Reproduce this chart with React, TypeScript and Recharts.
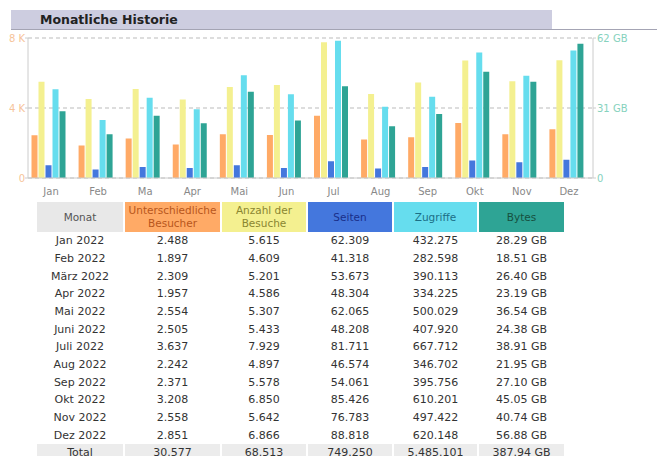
import React from 'react';
import { BarChart, Bar, XAxis, YAxis, CartesianGrid } from 'recharts';

// chart month labels
const months = ['Jan', 'Feb', 'Ma', 'Apr', 'Mai', 'Jun', 'Jul', 'Aug', 'Sep', 'Okt', 'Nov', 'Dez'];
// table month labels
const monthNames = ['Jan 2022', 'Feb 2022', 'März 2022', 'Apr 2022', 'Mai 2022', 'Juni 2022', 'Juli 2022', 'Aug 2022', 'Sep 2022', 'Okt 2022', 'Nov 2022', 'Dez 2022'];

const visitors = [2488, 1897, 2309, 1957, 2554, 2505, 3637, 2242, 2371, 3208, 2558, 2851];
const visits = [5615, 4609, 5201, 4586, 5307, 5433, 7929, 4897, 5578, 6850, 5642, 6866];
const pages = [62309, 41318, 53673, 48304, 62065, 48208, 81711, 46574, 54061, 85426, 76783, 88818];
const hits = [432275, 282598, 390113, 334225, 500029, 407920, 667712, 346702, 395756, 610201, 497422, 620148];
const bytesGB = [28.29, 18.51, 26.40, 23.19, 36.54, 24.38, 38.91, 21.95, 27.10, 45.05, 40.74, 56.88];

// axis scales
const visitsMax = 8170;
const hitsMax = 681000;
const bytesMax = 59.3;
const leftTicks = [0, visitsMax / 2, visitsMax];
const leftTickLabels = ['0', '4 K', '8 K'];
const rightTicks = [0, bytesMax / 2, bytesMax];
const rightTickLabels = ['0', '31 GB', '62 GB'];

const colors = {
  u: '#ffaa66',
  v: '#f4f090',
  p: '#4477dd',
  h: '#66ddee',
  k: '#2ea495',
};

const data = months.map((m, i) => ({
  month: m,
  visitors: visitors[i],
  visits: visits[i],
  pages: pages[i],
  hits: hits[i],
  bytes: bytesGB[i],
}));

const fmt = (n: number) => String(n).replace(/\B(?=(\d{3})+(?!\d))/g, '.');
const fmtGB = (n: number) => n.toFixed(2) + ' GB';
const sum = (arr: number[]) => arr.reduce((a, b) => a + b, 0);

const font = '"DejaVu Sans", Verdana, sans-serif';

const LeftTick = (props: any) => {
  const { x, y, index } = props;
  return (
    <text x={x} y={y} dy={3.5} textAnchor="end" fontSize={10} fontFamily={font} fill="#f6c49a">
      {leftTickLabels[index]}
    </text>
  );
};

const RightTick = (props: any) => {
  const { x, y, index } = props;
  return (
    <text x={x} y={y} dy={3.5} textAnchor="start" fontSize={10} fontFamily={font} fill="#86d2bd">
      {rightTickLabels[index]}
    </text>
  );
};

const MonthTick = (props: any) => {
  const { x, y, payload } = props;
  return (
    <text x={x + 3} y={y} dy={9} textAnchor="middle" fontSize={10} fontFamily={font} fill="#888">
      {payload.value}
    </text>
  );
};

const columns = [
  { title: ['Monat'], width: 86, bg: '#e8e8e8', color: '#555' },
  { title: ['Unterschiedliche', 'Besucher'], width: 95, bg: '#ffaa66', color: '#b8561c' },
  { title: ['Anzahl der', 'Besuche'], width: 84, bg: '#f4f090', color: '#8a8630' },
  { title: ['Seiten'], width: 84, bg: '#4477dd', color: '#1a2f8a' },
  { title: ['Zugriffe'], width: 83, bg: '#66ddee', color: '#1c6f86' },
  { title: ['Bytes'], width: 85, bg: '#2ea495', color: '#16503f' },
];

export default function App() {
  const rows = monthNames.map((name, i) => [
    name,
    fmt(visitors[i]),
    fmt(visits[i]),
    fmt(pages[i]),
    fmt(hits[i]),
    fmtGB(bytesGB[i]),
  ]);
  const totals = ['Total', fmt(sum(visitors)), fmt(sum(visits)), fmt(sum(pages)), fmt(sum(hits)), fmtGB(sum(bytesGB))];

  return (
    <div style={{ position: 'absolute', left: 0, top: 0, width: 657, height: 456, background: '#fff', overflow: 'hidden', fontFamily: font }}>
      {/* Title bar */}
      <div style={{ position: 'absolute', left: 11, top: 10, width: 541, height: 19, background: '#cdcde0' }} />
      <div style={{ position: 'absolute', left: 11, top: 29, width: 646, height: 1, background: '#a4a4b4' }} />
      <div style={{ position: 'absolute', left: 40, top: 12, fontSize: 12.5, fontWeight: 'bold', color: '#222', whiteSpace: 'nowrap' }}>
        Monatliche Historie
      </div>

      {/* Chart */}
      <div style={{ position: 'absolute', left: 0, top: 0 }}>
        <BarChart
          width={657}
          height={200}
          data={data}
          margin={{ top: 38, right: 0, left: 0, bottom: 0 }}
          barSize={6}
          barGap={1}
        >
          <CartesianGrid yAxisId="v" vertical={false} strokeDasharray="4 3" stroke="#bbb" />
          <XAxis
            dataKey="month"
            axisLine={{ stroke: '#ccc' }}
            tickLine={false}
            tick={<MonthTick />}
            padding={{ left: -3.5, right: 3.5 }}
            height={22}
            interval={0}
          />
          <YAxis
            yAxisId="v"
            orientation="left"
            width={28}
            domain={[0, visitsMax]}
            ticks={leftTicks}
            axisLine={{ stroke: '#ccc' }}
            tickLine={{ stroke: '#ccc' }}
            tickSize={3}
            tickMargin={0}
            tick={<LeftTick />}
            allowDataOverflow
          />
          <YAxis yAxisId="h" hide width={0} domain={[0, hitsMax]} allowDataOverflow />
          <YAxis
            yAxisId="k"
            orientation="right"
            width={64}
            domain={[0, bytesMax]}
            ticks={rightTicks}
            axisLine={{ stroke: '#ccc' }}
            tickLine={{ stroke: '#ccc' }}
            tickSize={3}
            tickMargin={1}
            tick={<RightTick />}
            allowDataOverflow
          />
          <Bar yAxisId="v" dataKey="visitors" fill={colors.u} isAnimationActive={false} />
          <Bar yAxisId="v" dataKey="visits" fill={colors.v} isAnimationActive={false} />
          <Bar yAxisId="h" dataKey="pages" fill={colors.p} isAnimationActive={false} />
          <Bar yAxisId="h" dataKey="hits" fill={colors.h} isAnimationActive={false} />
          <Bar yAxisId="k" dataKey="bytes" fill={colors.k} isAnimationActive={false} />
        </BarChart>
      </div>

      {/* Table */}
      <table
        style={{
          position: 'absolute',
          left: 35,
          top: 202,
          borderCollapse: 'separate',
          borderSpacing: '2px 0',
          fontSize: 11,
          color: '#333',
          tableLayout: 'fixed',
        }}
      >
        <thead>
          <tr>
            {columns.map((c, i) => (
              <th
                key={i}
                style={{
                  width: c.width,
                  height: 30,
                  padding: 0,
                  background: c.bg,
                  color: c.color,
                  fontWeight: 'normal',
                  fontSize: 10.5,
                  lineHeight: '13px',
                  textAlign: 'center',
                  verticalAlign: 'middle',
                }}
              >
                {c.title.map((t, j) => (
                  <div key={j}>{t}</div>
                ))}
              </th>
            ))}
          </tr>
        </thead>
        <tbody>
          {rows.map((r, i) => (
            <tr key={i}>
              {r.map((cell, j) => (
                <td key={j} style={{ height: 17.66, padding: 0, textAlign: 'center', lineHeight: '17px' }}>
                  {cell}
                </td>
              ))}
            </tr>
          ))}
          <tr>
            {totals.map((cell, j) => (
              <td key={j} style={{ height: 18, padding: 0, textAlign: 'center', background: '#ececec', lineHeight: '17px' }}>
                {cell}
              </td>
            ))}
          </tr>
        </tbody>
      </table>
    </div>
  );
}
